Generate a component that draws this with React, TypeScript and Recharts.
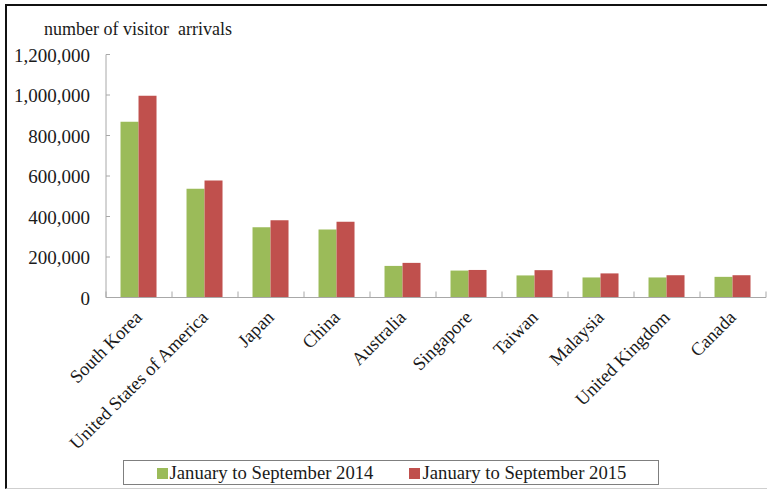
import React from 'react'
import { BarChart, Bar, XAxis, YAxis, Legend } from 'recharts'

// visitor arrivals, January to September, by country
const countries = [
  'South Korea',
  'United States of America',
  'Japan',
  'China',
  'Australia',
  'Singapore',
  'Taiwan',
  'Malaysia',
  'United Kingdom',
  'Canada',
]
const arrivals2014 = [868000, 537000, 347000, 336000, 156000, 133000, 109000, 99000, 99000, 102000]
const arrivals2015 = [996000, 578000, 382000, 374000, 171000, 136000, 135000, 119000, 110000, 110000]
const yTicks = [0, 200000, 400000, 600000, 800000, 1000000, 1200000]
const seriesNames = ['January to September 2014', 'January to September 2015']

const W = 767
const H = 492
const Y_AXIS_W = 106
const RIGHT = 1
const BAND = (W - Y_AXIS_W - RIGHT) / countries.length
const AXIS = '#a8a8a8'
const FONT = "'Liberation Serif', 'Times New Roman', serif"
const INK = '#1a1a1a'

const data = countries.map((c, i) => ({
  country: c,
  y2014: arrivals2014[i],
  y2015: arrivals2015[i],
}))

function CountryTick(props: any) {
  const { x, y, payload, index } = props
  const half = BAND / 2
  const tx = x + 4
  const ty = y + 21
  return (
    <g>
      <line x1={x - half} y1={y} x2={x - half} y2={y - 6} stroke={AXIS} />
      {index === countries.length - 1 && (
        <line x1={x + half} y1={y} x2={x + half} y2={y - 6} stroke={AXIS} />
      )}
      <text
        x={tx}
        y={ty}
        textAnchor="end"
        transform={`rotate(-45 ${tx} ${ty})`}
        fontFamily={FONT}
        fontSize={18.5}
        fill={INK}
      >
        {payload.value}
      </text>
    </g>
  )
}

function ValueTick(props: any) {
  const { x, y, payload } = props
  return (
    <g>
      <line x1={x} y1={y} x2={x + 4} y2={y} stroke={AXIS} />
      <text x={x - 16} y={y + 7} textAnchor="end" fontFamily={FONT} fontSize={19} fill={INK}>
        {Number(payload.value).toLocaleString('en-US')}
      </text>
    </g>
  )
}

function LegendBox(props: any) {
  const items = props.payload || []
  return (
    <div
      style={{
        boxSizing: 'border-box',
        width: 536,
        height: 25,
        border: '1px solid #7f7f7f',
        background: '#fff',
        display: 'flex',
        alignItems: 'center',
        paddingLeft: 33,
        fontFamily: FONT,
        fontSize: 18.7,
        color: INK,
        whiteSpace: 'nowrap',
      }}
    >
      {items.map((it: any, i: number) => (
        <span key={i} style={{ display: 'flex', alignItems: 'center', marginRight: i === 0 ? 36 : 0 }}>
          <span style={{ width: 11, height: 11, background: it.color, marginRight: 2, marginTop: 2 }} />
          <span style={{ lineHeight: '25px' }}>{it.value}</span>
        </span>
      ))}
    </div>
  )
}

export default function App() {
  return (
    <div style={{ position: 'relative', width: W, height: H, overflow: 'hidden', background: '#fff' }}>
      <style>{`body{margin:0}`}</style>
      <div
        style={{
          position: 'absolute',
          left: 5,
          top: 4,
          width: 820,
          height: 485,
          boxSizing: 'border-box',
          borderTop: '2px solid #111',
          borderLeft: '2px solid #111',
          borderBottom: '1px solid #cfcfcf',
        }}
      />
      <div
        style={{
          position: 'absolute',
          left: 44,
          top: 20,
          fontFamily: FONT,
          fontSize: 18,
          lineHeight: '18px',
          color: INK,
          whiteSpace: 'pre',
        }}
      >
        {'number of visitor  arrivals'}
      </div>
      <div style={{ position: 'absolute', left: 0, top: 0 }}>
        <BarChart
          width={W}
          height={H}
          data={data}
          margin={{ top: 54.5, right: RIGHT, bottom: 0, left: 0 }}
          barGap={0}
          barCategoryGap="22%"
        >
          <XAxis
            dataKey="country"
            height={H - 297.5}
            interval={0}
            tickLine={false}
            tickSize={0}
            tickMargin={0}
            axisLine={{ stroke: AXIS }}
            tick={<CountryTick />}
          />
          <YAxis
            width={Y_AXIS_W}
            domain={[0, 1200000]}
            ticks={yTicks}
            interval={0}
            tickLine={false}
            tickSize={0}
            tickMargin={0}
            axisLine={{ stroke: AXIS }}
            tick={<ValueTick />}
          />
          <Legend
            layout="horizontal"
            verticalAlign="middle"
            align="center"
            wrapperStyle={{ position: 'absolute', left: 122.5, top: 459.5, width: 536, height: 25 }}
            content={<LegendBox />}
          />
          <Bar dataKey="y2014" name={seriesNames[0]} fill="#9bbb59" isAnimationActive={false} />
          <Bar dataKey="y2015" name={seriesNames[1]} fill="#c0504d" isAnimationActive={false} />
        </BarChart>
      </div>
    </div>
  )
}
